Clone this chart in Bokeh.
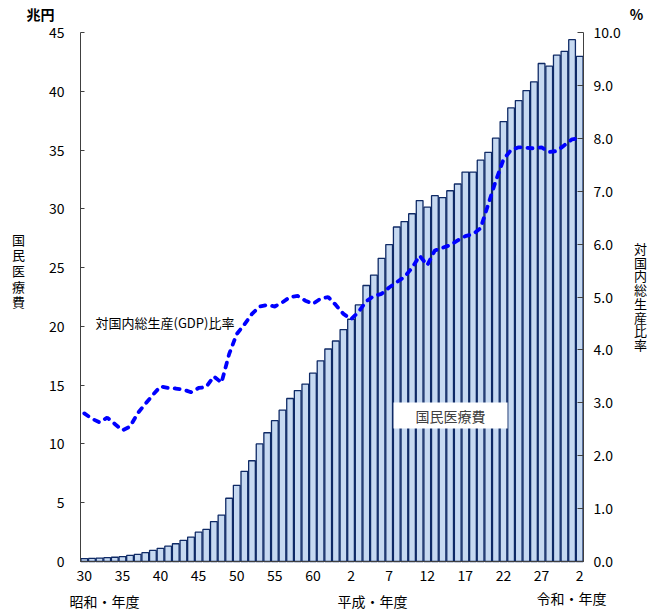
from bokeh.plotting import figure
from bokeh.models import (Range1d, LinearAxis, FixedTicker, Label, BoxAnnotation,
                          ColumnDataSource, PrintfTickFormatter)
from bokeh.embed import file_html
from bokeh.resources import INLINE

# 年度 (昭和30年度 = 1955 ... 令和2年度 = 2020)
fiscal_years = list(range(1955, 2021))

# 国民医療費 (兆円)
medical_cost = [0.2388, 0.2583, 0.2897, 0.3230, 0.3625, 0.4095, 0.5130, 0.6132, 0.7541, 0.9389,
                1.1224, 1.3002, 1.5116, 1.8016, 2.0780, 2.4962, 2.7250, 3.3994, 3.9496, 5.3786,
                6.4779, 7.6684, 8.5686, 10.0042, 10.9510, 11.9805, 12.8709, 13.8659, 14.5438, 15.0932,
                16.0159, 17.0690, 18.0759, 18.7554, 19.7290, 20.6074, 21.8260, 23.4784, 24.3631, 25.7908,
                26.9577, 28.4542, 28.9149, 29.5823, 30.7019, 30.1418, 31.1234, 30.9507, 31.5375, 32.1111,
                33.1289, 33.1276, 34.1360, 34.8084, 36.0067, 37.4202, 38.5850, 39.2117, 40.0610, 40.8071,
                42.3644, 42.1381, 43.0710, 43.3949, 44.3895, 42.9665]

# 対国内総生産(GDP)比率 (%)
gdp_ratio = [2.80, 2.70, 2.63, 2.72, 2.60, 2.48, 2.55, 2.80, 2.98, 3.15,
             3.31, 3.28, 3.27, 3.25, 3.20, 3.28, 3.30, 3.50, 3.38, 3.92,
             4.30, 4.48, 4.68, 4.82, 4.85, 4.82, 4.90, 5.00, 5.02, 4.93,
             4.87, 4.97, 5.00, 4.85, 4.68, 4.58, 4.72, 4.92, 5.02, 5.06,
             5.18, 5.28, 5.38, 5.55, 5.78, 5.60, 5.88, 5.93, 5.98, 6.07,
             6.15, 6.19, 6.30, 6.75, 7.20, 7.60, 7.78, 7.83, 7.82, 7.81,
             7.83, 7.74, 7.76, 7.87, 7.98, 8.00]

# x tick labels (every 5 years)
tick_years = [1955, 1960, 1965, 1970, 1975, 1980, 1985, 1990, 1995, 2000, 2005, 2010, 2015, 2020]
tick_texts = ["30", "35", "40", "45", "50", "55", "60", "2", "7", "12", "17", "22", "27", "2"]

left_ticks = [0, 5, 10, 15, 20, 25, 30, 35, 40, 45]
right_ticks = [0, 1, 2, 3, 4, 5, 6, 7, 8, 9, 10]
left_max, right_max = 45, 10

JP = "Noto Sans CJK JP"

# page geometry (pixels): canvas and the plotting area inside it
W, H = 647, 613
AL, AR, AT, AB = 80, 583, 32, 561   # axis left/right/top/bottom

x0 = fiscal_years[0] - 0.5
x1 = fiscal_years[-1] + 0.5
xpp = (x1 - x0) / (AR - AL)
lpp = left_max / (AB - AT)
rpp = right_max / (AB - AT)

src = ColumnDataSource(dict(year=fiscal_years, cost=medical_cost, ratio=gdp_ratio))

p = figure(width=W, height=H, output_backend="svg", toolbar_location=None,
           x_range=Range1d(x0 - AL * xpp, x1 + (W - AR) * xpp),
           y_range=Range1d(-(H - AB) * lpp, left_max + AT * lpp),
           x_axis_location=None, y_axis_location=None,
           min_border=0, min_border_left=0, min_border_right=0,
           min_border_top=0, min_border_bottom=0)
p.outline_line_color = None
p.xgrid.visible = False
p.ygrid.visible = False
p.background_fill_color = "white"
p.border_fill_color = "white"
p.extra_y_ranges = {"pct": Range1d(-(H - AB) * rpp, right_max + AT * rpp)}

p.vbar(x="year", top="cost", width=0.88, bottom=0, source=src,
       fill_color="#C6D9F1", line_color="#0F2A66", line_width=1.3)

p.line(x="year", y="ratio", source=src, y_range_name="pct",
       line_color="#0000FF", line_width=3.8, line_dash="5 7", line_cap="round")


def style(axis, standoff):
    axis.minor_tick_line_color = None
    axis.axis_line_color = "#404040"
    axis.major_tick_line_color = "#404040"
    axis.major_label_text_font = JP
    axis.major_label_text_font_size = "14px"
    axis.major_label_text_color = "black"
    axis.major_label_standoff = standoff


bx = LinearAxis(ticker=FixedTicker(ticks=tick_years), fixed_location=0, bounds=(x0, x1))
bx.major_label_overrides = {y: t for y, t in zip(tick_years, tick_texts)}
bx.major_tick_in = 0
bx.major_tick_out = 0
style(bx, 8)
p.add_layout(bx, "below")

ly = LinearAxis(ticker=FixedTicker(ticks=left_ticks), fixed_location=x0, bounds=(0, left_max))
ly.major_tick_in = 4
ly.major_tick_out = 0
style(ly, 16)
p.add_layout(ly, "left")

ry = LinearAxis(y_range_name="pct", ticker=FixedTicker(ticks=right_ticks),
                formatter=PrintfTickFormatter(format="%.1f"),
                fixed_location=x1, bounds=(0, right_max))
ry.major_tick_in = 6
ry.major_tick_out = 0
style(ry, 10)
p.add_layout(ry, "right")


def lab(text, px, py, size="14px", bold=False, align="center", color="black", lh=1.2):
    return Label(x=px, y=H - py, x_units="screen", y_units="screen", text=text,
                 text_font=JP, text_font_size=size,
                 text_font_style="bold" if bold else "normal",
                 text_align=align, text_baseline="middle", text_color=color,
                 text_line_height=lh)


p.add_layout(lab("兆円", 40, 13, bold=True))
p.add_layout(lab("%", 636, 13, bold=True))
p.add_layout(lab("国\n民\n医\n療\n費", 18, 270, size="13px", lh=0.82))
p.add_layout(lab("対\n国\n内\n総\n生\n産\n比\n率", 640, 296, size="13px", lh=0.72))
p.add_layout(lab("対国内総生産(GDP)比率", 95, 322, size="13px", align="left"))

p.add_layout(BoxAnnotation(left=393, right=507, top=H - 402, bottom=H - 428,
                           left_units="screen", right_units="screen",
                           top_units="screen", bottom_units="screen",
                           fill_color="white", fill_alpha=1.0, line_color=None))
p.add_layout(lab("国民医療費", 450, 415, size="14px", color="#404040"))

p.add_layout(lab("昭和・年度", 104, 600))
p.add_layout(lab("平成・年度", 372, 600))
p.add_layout(lab("令和・年度", 571, 597))

open("out.html", "w").write(file_html(p, INLINE))
